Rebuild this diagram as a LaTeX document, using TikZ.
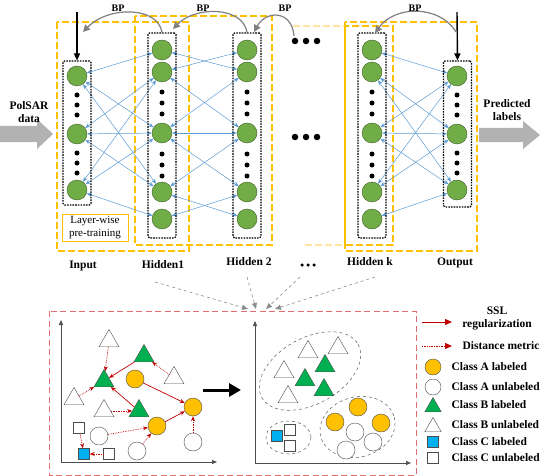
\documentclass[tikz,border=0pt]{standalone}
\usepackage{fontspec}
\setmainfont{Liberation Serif}
\usetikzlibrary{arrows.meta, shapes.geometric, positioning}

\definecolor{neugreen}{HTML}{70AD47}
\definecolor{linkblue}{HTML}{5B9BD5}
\definecolor{preyellow}{HTML}{FFC000}
\definecolor{fadeyellow}{HTML}{FFE3A0}
\definecolor{clsgreen}{HTML}{00B050}
\definecolor{clsyellow}{HTML}{FFC000}
\definecolor{clsblue}{HTML}{00B0F0}
\definecolor{sslred}{HTML}{C00000}
\definecolor{boxred}{HTML}{E46C6C}

\tikzset{
  neuron/.style   = {circle, fill=neugreen, draw=neugreen!55!black, line width=0.4pt, minimum size=20pt, inner sep=0pt},
  ndot/.style     = {circle, fill=black, minimum size=5pt, inner sep=0pt},
  layerbox/.style = {draw, dash pattern=on 1.6pt off 1.1pt, line width=1.1pt, rounded corners=1.5pt, minimum width=28pt},
  prebox/.style   = {draw=preyellow, dash pattern=on 7pt off 3pt, line width=1.4pt},
  fadebox/.style  = {prebox, draw=fadeyellow},
  link/.style     = {draw=linkblue, line width=0.5pt, {Stealth[length=5pt,width=4pt]}-{Stealth[length=5pt,width=4pt]}},
  feed/.style     = {line width=1.4pt, -{Triangle[length=7pt,width=6pt]}},
  bp/.style       = {draw=black!50, line width=1.2pt, -{Triangle[length=7pt,width=7pt]}},
  lbl/.style      = {font=\fontsize{11.5}{13}\selectfont\bfseries},
  bplbl/.style    = {font=\fontsize{10}{12}\selectfont\bfseries},
  bigarrow/.style = {fill=black!30},
  gdash/.style    = {draw=black!45, dashed, line width=0.6pt, -{Triangle[length=6pt,width=5pt]}},
  plotaxis/.style = {draw=black!70, line width=0.7pt, -{Triangle[length=5pt,width=4pt]}},
  labA/.style     = {circle, fill=clsyellow, draw=black!70, line width=0.4pt, minimum size=18pt, inner sep=0pt},
  unlA/.style     = {labA, fill=white},
  labB/.style     = {regular polygon, regular polygon sides=3, fill=clsgreen, draw=black!70, line width=0.4pt, minimum size=23pt, inner sep=0pt},
  unlB/.style     = {labB, fill=white},
  labC/.style     = {rectangle, fill=clsblue, draw=black!70, line width=0.4pt, minimum size=11pt, inner sep=0pt},
  unlC/.style     = {labC, fill=white},
  ssl/.style      = {draw=sslred, line width=0.7pt, -{Stealth[length=5pt,width=4pt]}},
  dist/.style     = {ssl, densely dotted},
  clusterline/.style = {draw=black!65, dashed, line width=0.5pt}
}

\begin{document}
\begin{tikzpicture}[x=1pt, y=-1pt]
\useasboundingbox (0,0) rectangle (543,476);

% pre-training windows
\draw[prebox] (57,22) rectangle (189,251);
\draw[prebox] (135,16) rectangle (272,245);
\draw[fadebox] (293,26) -- (345,26) (305,245) -- (345,245);
\draw[prebox] (345,26) rectangle (393,245);
\draw[prebox] (345,22) rectangle (477,251);

% neurons
\foreach \n/\y in {1/76,2/134,3/190} {
  \node[neuron] (in\n)  at (77,\y)  {};
  \node[neuron] (out\n) at (457,\y) {};
}
\foreach \n/\y in {1/50,2/72,3/133,4/192,5/219} {
  \node[neuron] (ha\n) at (162,\y) {};
  \node[neuron] (hb\n) at (247,\y) {};
  \node[neuron] (hk\n) at (372,\y) {};
}
\foreach \y in {95,105,115,153,163,173} {
  \node[ndot] (ind\y)  at (77,\y)  {};
  \node[ndot] (outd\y) at (457,\y) {};
}
\foreach \y in {92,103,114,154,165,176} {
  \node[ndot] (had\y) at (162,\y) {};
  \node[ndot] (hbd\y) at (247,\y) {};
  \node[ndot] (hkd\y) at (372,\y) {};
}
\foreach \x in {295,306,317} {
  \node[ndot, minimum size=6.5pt] (elt\x) at (\x,41)  {};
  \node[ndot, minimum size=6.5pt] (elm\x) at (\x,137) {};
}

% links
\foreach \a/\b in {1/1,1/3,1/4,2/2,2/3,2/4,3/2,3/3,3/5} {
  \draw[link] (in\a) -- (ha\b);
  \draw[link] (hk\b) -- (out\a);
}
\foreach \a/\b in {1/2,2/1,2/3,3/2,3/3,3/4,4/3,4/5,5/4} {
  \draw[link] (ha\a) -- (hb\b);
}

% layer boxes
\node[layerbox, minimum height=144pt] (inbox)  at (77,133)    {};
\node[layerbox, minimum height=205pt] (habox)  at (162,135.5) {};
\node[layerbox, minimum height=205pt] (hbbox)  at (247,135.5) {};
\node[layerbox, minimum height=205pt] (hkbox)  at (372,135.5) {};
\node[layerbox, minimum height=146pt] (outbox) at (457.5,134) {};

% feed and BP
\coordinate (insrc)  at (77,12);
\coordinate (outsrc) at (457,12);
\draw[feed] (insrc) -- (inbox.north);
\draw[feed] (outsrc) -- (outbox.north);

\coordinate (tipa) at (83,32);
\coordinate (tipb) at (173,29);
\coordinate (tipc) at (254,32);
\coordinate (tipd) at (375,33);
\coordinate (srcc) at (294,36);
\coordinate (srcd) at (456,32);
\draw[bp] (habox.north) .. controls (158,6) and (108,6) .. (tipa);
\draw[bp] (hbbox.north) .. controls (243,6) and (195,6) .. (tipb);
\draw[bp] (srcc) .. controls (292,10) and (266,10) .. (tipc);
\draw[bp] (srcd) .. controls (440,5) and (395,5) .. (tipd);
\node[bplbl] (bpa) at (118,8) {BP};
\node[bplbl] (bpb) at (203,8) {BP};
\node[bplbl] (bpc) at (285,8) {BP};
\node[bplbl] (bpd) at (415,8) {BP};

% data in and out
\fill[bigarrow] (0,126) -- (37,126) -- (37,119) -- (53,134) -- (37,149) -- (37,142) -- (0,142) -- cycle;
\fill[bigarrow] (479,128) -- (523,128) -- (523,121) -- (540,135) -- (523,149) -- (523,142) -- (479,142) -- cycle;
\node[lbl, align=center] (polsar) at (29,112) {PolSAR\\data};
\node[lbl, align=center] (pred) at (507,110) {Predicted\\labels};

\node[draw=preyellow, line width=0.6pt, minimum width=66pt, minimum height=27pt, inner sep=1pt,
      align=center, font=\fontsize{11}{12.5}\selectfont] (pretr) at (95,227.5) {Layer-wise\\pre-training};

% layer names
\node[lbl] (lin)  at (83,266)  {Input};
\node[lbl] (lha)  at (163,265) {Hidden1};
\node[lbl] (lhb)  at (249,262) {Hidden 2};
\node[lbl] (lhk)  at (370,262) {Hidden k};
\node[lbl] (lout) at (455,263) {Output};
\foreach \x in {302,308,314}
  \node[ndot, minimum size=3.5pt] (ldot\x) at (\x,265) {};

% to the SSL panel
\coordinate (gsa) at (155,282);
\coordinate (gsb) at (247,277);
\coordinate (gsc) at (300,277);
\coordinate (gsd) at (375,277);
\coordinate (gta) at (248,309);
\coordinate (gtb) at (256,309);
\coordinate (gtc) at (266,309);
\coordinate (gtd) at (275,309);
\draw[gdash] (gsa) -- (gta);
\draw[gdash] (gsb) -- (gtb);
\draw[gdash] (gsc) -- (gtc);
\draw[gdash] (gsd) -- (gtd);

% SSL panel
\draw[draw=boxred, dash pattern=on 6pt off 3.5pt, line width=1pt] (49,311) rectangle (416,475);

\coordinate (oa) at (61,462);
\coordinate (ob) at (255,463);
\draw[plotaxis] (oa) -- (61,320);
\draw[plotaxis] (oa) -- (217,462);
\draw[plotaxis] (ob) -- (255,321);
\draw[plotaxis] (ob) -- (411,463);

% before
\node[unlB] (ub1) at (109,341) {};
\node[labB] (lb1) at (144,356) {};
\node[unlB] (ub2) at (174,378) {};
\node[labB] (lb2) at (104,381) {};
\node[unlB] (ub3) at (74,399)  {};
\node[unlB] (ub4) at (104,411) {};
\node[labB] (lb3) at (139,411) {};
\node[labA] (la1) at (135,379) {};
\node[labA] (la2) at (193,407) {};
\node[labA] (la3) at (157,426) {};
\node[unlC] (uc1) at (79,428)  {};
\node[unlA] (ua1) at (99,436)  {};
\node[unlA] (ua2) at (193,442) {};
\node[labC] (lc)  at (84,454)  {};
\node[unlC] (uc2) at (109,454) {};
\node[unlA] (ua3) at (137,451) {};

\draw[dist] (ub1) -- (lb2);
\draw[dist] (ub2) -- (lb1);
\draw[dist] (ub3) -- (lb2);
\draw[dist] (ub4) -- (lb3);
\draw[ssl]  (lb1) -- (lb2);
\draw[ssl]  (lb3) -- (lb2);
\draw[ssl]  (la1) -- (la2);
\draw[ssl]  (la3) -- (la2);
\draw[dist] (ua1) -- (la3);
\draw[dist] (ua3) -- (la3);
\draw[dist] (ua2) -- (la2);
\draw[dist] (uc1) -- (lc);
\draw[dist] (uc2) -- (lc);

\coordinate (bga) at (203,390);
\coordinate (bgb) at (241,390);
\draw[line width=3pt, -{Triangle[length=12pt,width=13pt]}] (bga) -- (bgb);

% after
\draw[clusterline] (310,371) ellipse [x radius=55, y radius=33, rotate=29];
\draw[clusterline] (357.5,427) ellipse [x radius=38, y radius=30, rotate=15];
\draw[clusterline] (288.5,437.5) ellipse [x radius=22.5, y radius=16.5];

\node[unlB] (rub1) at (308,352) {};
\node[unlB] (rub2) at (338,348) {};
\node[unlB] (rub3) at (284,372) {};
\node[unlB] (rub4) at (288,397) {};
\node[labB] (rlb1) at (325,366) {};
\node[labB] (rlb2) at (305,380) {};
\node[labB] (rlb3) at (324,390) {};
\node[labA] (rla1) at (358,407) {};
\node[labA] (rla2) at (335,422) {};
\node[labA] (rla3) at (381,423) {};
\node[unlA] (rua1) at (355,432) {};
\node[unlA] (rua2) at (373,442) {};
\node[unlA] (rua3) at (346,450) {};
\node[labC] (rlc)  at (277,436) {};
\node[unlC] (ruc1) at (290,430) {};
\node[unlC] (ruc2) at (290,446) {};

% legend
\coordinate (kssla) at (422,322);
\coordinate (ksslb) at (452,322);
\coordinate (kdista) at (422,346);
\coordinate (kdistb) at (452,346);
\draw[ssl, line width=0.9pt, -{Triangle[length=7pt,width=6pt]}] (kssla) -- (ksslb);
\draw[dist, line width=0.9pt, -{Triangle[length=7pt,width=6pt]}] (kdista) -- (kdistb);
\node[lbl, align=center] (tssl) at (497,318.5) {SSL\\regularization};
\node[lbl, anchor=west] (tdist) at (459,346) {Distance metric};

\node[labA, minimum size=16pt] (kla) at (433,367) {};
\node[unlA, minimum size=16pt] (kua) at (433,387) {};
\node[labB, minimum size=19pt] (klb) at (433,407) {};
\node[unlB, minimum size=19pt] (kub) at (433,427) {};
\node[labC] (klc) at (433,442) {};
\node[unlC] (kuc) at (433,458) {};
\node[lbl, anchor=west] (tla) at (448,367) {Class A labeled};
\node[lbl, anchor=west] (tua) at (448,387) {Class A unlabeled};
\node[lbl, anchor=west] (tlb) at (448,405) {Class B labeled};
\node[lbl, anchor=west] (tub) at (448,425) {Class B unlabeled};
\node[lbl, anchor=west] (tlc) at (448,442) {Class C labeled};
\node[lbl, anchor=west] (tuc) at (448,458) {Class C unlabeled};

\end{tikzpicture}
\end{document}
